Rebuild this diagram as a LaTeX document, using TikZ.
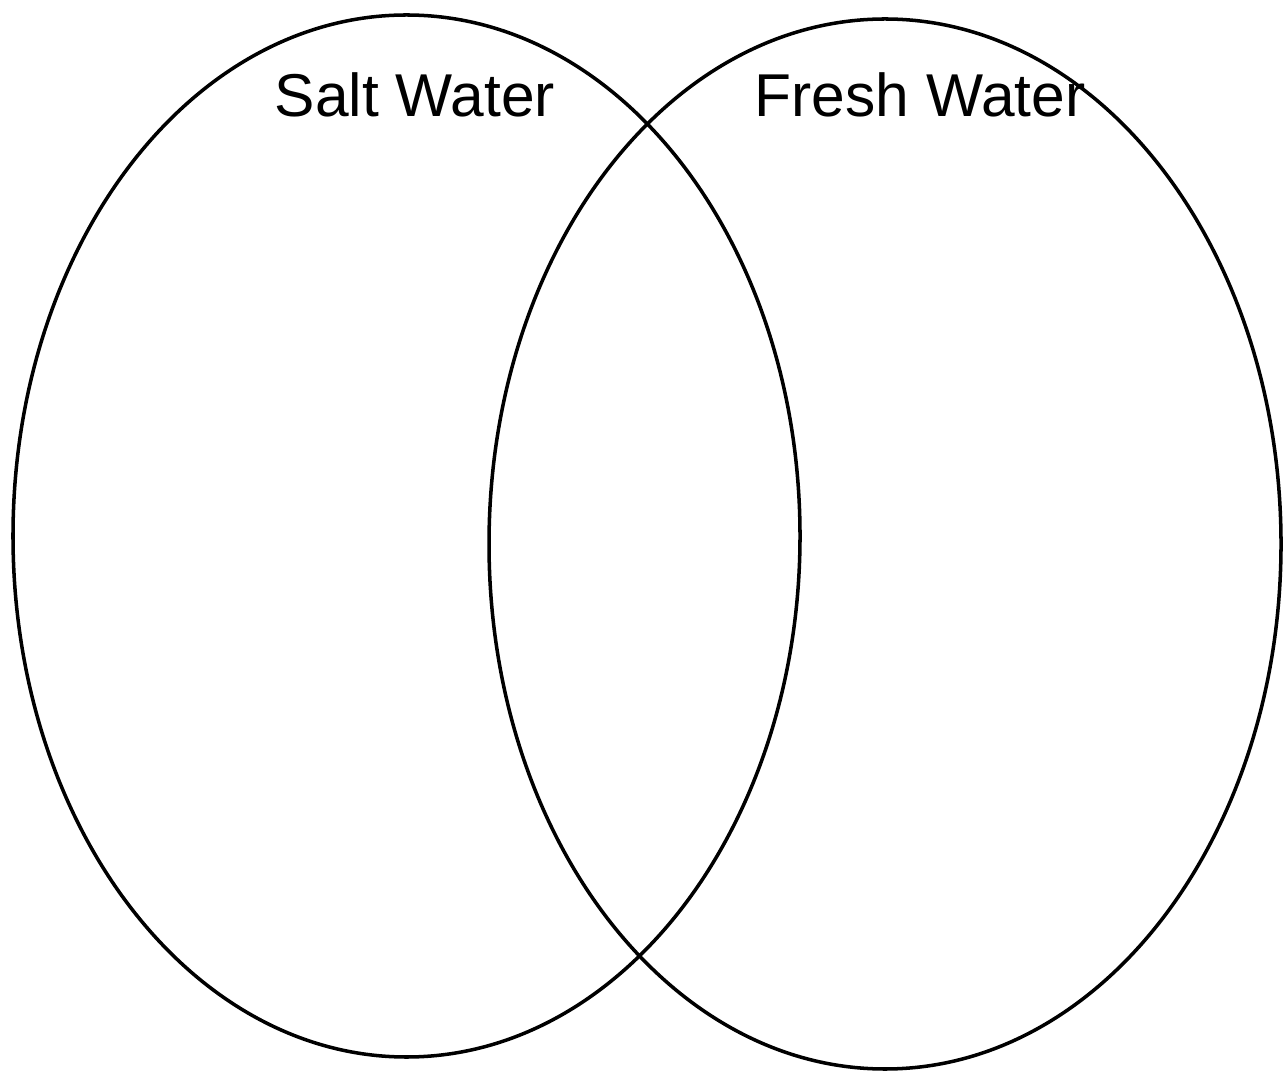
\documentclass[tikz,border=0pt]{standalone}
\usepackage{fontspec}
\setmainfont{Liberation Sans}
\usepackage{tikz}
\usetikzlibrary{positioning}

\begin{document}
\begin{tikzpicture}[x=0.01cm, y=-0.01cm,
    circ/.style={black, line width=1pt},
    setlabel/.style={anchor=base, inner sep=0pt, font=\fontsize{17.2}{20}\selectfont}]
    \useasboundingbox (0,0) rectangle (1283,1074);

    % the two sets
    \draw[circ] (406.5,536) ellipse (393.5 and 521);
    \draw[circ] (885,544) ellipse (396 and 525);

    % set names
    \node[setlabel] (salt) at (415,117) {Salt Water};
    \node[setlabel] (fresh) at (920,117) {Fresh Water};
\end{tikzpicture}
\end{document}
